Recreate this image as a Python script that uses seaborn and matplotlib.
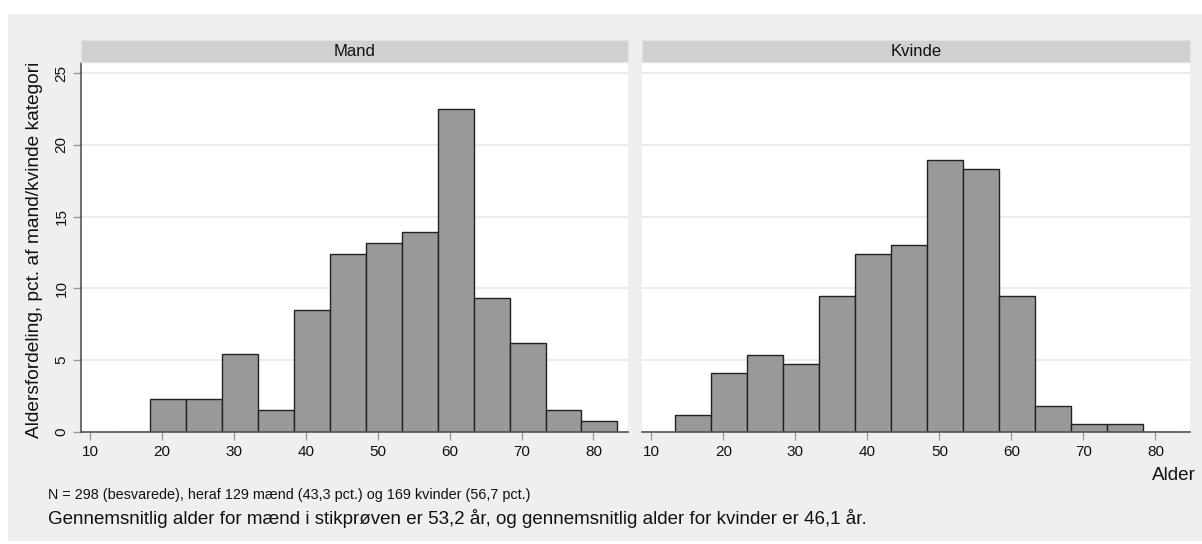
import numpy as np
import pandas as pd
import matplotlib
matplotlib.use("Agg")
import matplotlib.pyplot as plt
import seaborn as sns
from matplotlib.patches import Rectangle

# ---- data ----
bin_lower = [13.33, 18.33, 23.33, 28.33, 33.33, 38.33, 43.33, 48.33,
             53.33, 58.33, 63.33, 68.33, 73.33, 78.33]
bin_width = 5.0
mand_pct = [0.0, 2.33, 2.33, 5.43, 1.55, 8.53, 12.40, 13.18, 13.95,
            22.48, 9.30, 6.20, 1.55, 0.78]
kvinde_pct = [1.18, 4.14, 5.33, 4.73, 9.47, 12.43, 13.02, 18.93, 18.34,
              9.47, 1.78, 0.59, 0.59, 0.0]
panels = ["Mand", "Kvinde"]
x_ticks = [10, 20, 30, 40, 50, 60, 70, 80]
y_ticks = [0, 5, 10, 15, 20, 25]
y_label = "Aldersfordeling, pct. af mand/kvinde kategori"
x_label = "Alder"
note1 = "N = 298 (besvarede), heraf 129 mænd (43,3 pct.) og 169 kvinder (56,7 pct.)"
note2 = ("Gennemsnitlig alder for mænd i stikprøven er 53,2 år, "
         "og gennemsnitlig alder for kvinder er 46,1 år.")

edges = list(bin_lower) + [bin_lower[-1] + bin_width]
centers = [b + bin_width / 2 for b in bin_lower]
df = pd.DataFrame({
    "Alder": centers * 2,
    "pct": mand_pct + kvinde_pct,
    "Køn": [panels[0]] * len(centers) + [panels[1]] * len(centers),
})

sns.set_theme(style="white")
plt.rcParams["font.family"] = ["Liberation Sans", "DejaVu Sans"]

W, H = 1202, 544
fig = plt.figure(figsize=(W / 100, H / 100), dpi=100)
fig.patch.set_facecolor("white")
fig.patches.append(Rectangle((8 / W, 3 / H), 1194 / W, 527 / H,
                             transform=fig.transFigure, facecolor="#efefef",
                             edgecolor="none", zorder=-10))

def fx(px):
    return px / W

def fy(py):
    return (H - py) / H

panel_x = [(81, 628), (642, 1190)]
ax_top, ax_bot = 63, 432
strip_top, strip_bot = 40, 62

for i, (name, (x0, x1)) in enumerate(zip(panels, panel_x)):
    ax = fig.add_axes([fx(x0), fy(ax_bot), (x1 - x0) / W, (ax_bot - ax_top) / H])
    ax.set_facecolor("white")
    sub = df[df["Køn"] == name]
    sns.histplot(data=sub, x="Alder", weights="pct", bins=edges, ax=ax,
                 color="#999999", edgecolor="#222222", linewidth=1.0, alpha=1.0)
    ax.set_xlim(8.7, 84.8)
    ax.set_ylim(0, 25.7)
    ax.set_yticks(y_ticks)
    ax.set_xticks(x_ticks)
    for yv in y_ticks[1:]:
        ax.axhline(yv, color="#eaeaea", lw=1.3, zorder=0)
    ax.set_xlabel("")
    ax.set_ylabel("")
    for s in ["top", "right"]:
        ax.spines[s].set_visible(False)
    ax.spines["bottom"].set_color("#555555")
    ax.spines["bottom"].set_linewidth(1.2)
    ax.tick_params(axis="x", direction="out", length=6, width=1, color="#999999",
                   labelsize=11, pad=3, labelcolor="#111111", bottom=True)
    if i == 0:
        ax.spines["left"].set_color("#555555")
        ax.spines["left"].set_linewidth(1.2)
        ax.tick_params(axis="y", direction="out", length=6, width=1, color="#999999",
                       labelsize=11, pad=3, labelcolor="#111111", left=True,
                       labelrotation=90)
        for lab in ax.get_yticklabels():
            lab.set_verticalalignment("center")
    else:
        ax.spines["left"].set_visible(False)
        ax.tick_params(axis="y", left=False, labelleft=False)
    ax.set_axisbelow(True)

    sax = fig.add_axes([fx(x0), fy(strip_bot), (x1 - x0) / W, (strip_bot - strip_top) / H])
    sax.set_facecolor("#d0d0d0")
    for s in sax.spines.values():
        s.set_color("#dce4e8")
        s.set_linewidth(1.0)
    sax.set_xticks([])
    sax.set_yticks([])
    sax.text(0.5, 0.5, name, ha="center", va="center", fontsize=12,
             color="#111111", transform=sax.transAxes)

fig.text(fx(35), fy(250), y_label, rotation=90, ha="center", va="center",
         fontsize=13.8, color="#111111")
fig.text(fx(1196), fy(476), x_label, ha="right", va="center",
         fontsize=13.6, color="#111111")
fig.text(fx(48), fy(495), note1, ha="left", va="center", fontsize=10.4,
         color="#111111")
fig.text(fx(48), fy(519), note2, ha="left", va="center", fontsize=13.5,
         color="#111111")

fig.savefig("out.png", dpi=100)
